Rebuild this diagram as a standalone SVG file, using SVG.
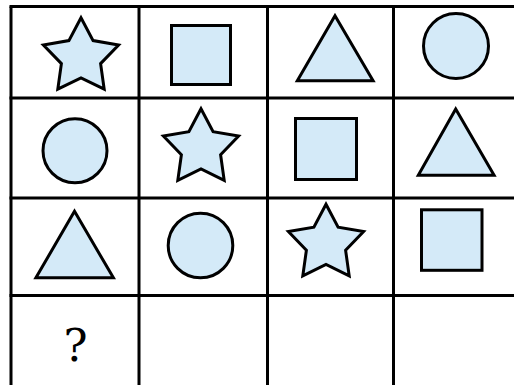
<svg xmlns="http://www.w3.org/2000/svg" width="514" height="385" viewBox="0 0 514 385">
<style>
.grid{stroke:#000;stroke-width:3;fill:none}
.shape{fill:#D4EAF8;stroke:#000;stroke-width:3;stroke-linejoin:miter}
.q{font-family:"DejaVu Serif","Liberation Serif",serif;font-size:45px;fill:#000;text-anchor:middle}
</style>
<defs>
<polygon id="star" points="0,-39.5 12.1,-16.6 37.6,-12.2 19.6,6.4 23.2,32 0,20.6 -23.2,32 -19.6,6.4 -37.6,-12.2 -12.1,-16.6"/>
</defs>
<rect width="514" height="385" fill="#fff"/>
<g id="grid" class="grid">
<line x1="11" y1="6.5" x2="11" y2="400"/>
<line x1="139" y1="6.5" x2="139" y2="400"/>
<line x1="267.5" y1="6.5" x2="267.5" y2="400"/>
<line x1="393.5" y1="6.5" x2="393.5" y2="400"/>
<line x1="9.5" y1="6.5" x2="530" y2="6.5"/>
<line x1="9.5" y1="98" x2="530" y2="98"/>
<line x1="9.5" y1="198" x2="530" y2="198"/>
<line x1="9.5" y1="295.5" x2="530" y2="295.5"/>
<line x1="9.5" y1="386.5" x2="530" y2="386.5"/>
</g>
<g id="r1c1"><use href="#star" class="shape" transform="translate(81,57.2)"/></g>
<g id="r1c2"><rect class="shape" x="171.5" y="25.5" width="59" height="59"/></g>
<g id="r1c3"><polygon class="shape" points="335,15.7 373.1,80.8 297.3,80.8"/></g>
<g id="r1c4"><circle class="shape" cx="456" cy="46" r="32.5"/></g>
<g id="r2c1"><circle class="shape" cx="75" cy="150.7" r="32"/></g>
<g id="r2c2"><use href="#star" class="shape" transform="translate(201,148.3)"/></g>
<g id="r2c3"><rect class="shape" x="295.5" y="118.5" width="61" height="61"/></g>
<g id="r2c4"><polygon class="shape" points="455.7,109 494.1,175.2 418.3,175.2"/></g>
<g id="r3c1"><polygon class="shape" points="74.5,211.3 113.4,277.8 35.9,277.8"/></g>
<g id="r3c2"><circle class="shape" cx="200.5" cy="245.5" r="32.3"/></g>
<g id="r3c3"><use href="#star" class="shape" transform="translate(326,243.8)"/></g>
<g id="r3c4"><rect class="shape" x="421.5" y="209.8" width="60.5" height="60.5"/></g>
<g id="r4c1"><text class="q" x="75.5" y="361">?</text></g>
</svg>
